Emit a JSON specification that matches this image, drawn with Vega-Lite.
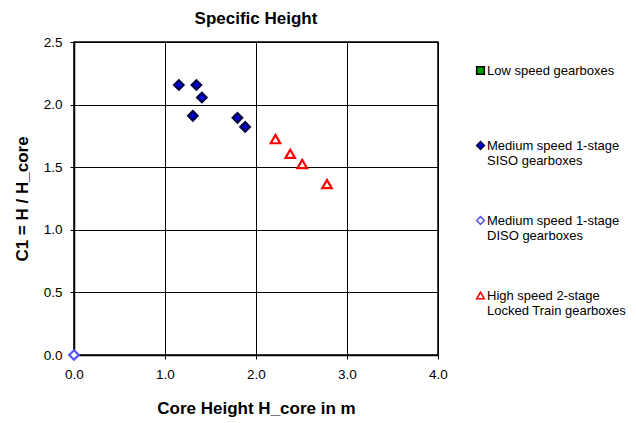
{
  "$schema": "https://vega.github.io/schema/vega-lite/v6.json",
  "autosize": "none",
  "width": 364,
  "height": 313,
  "padding": {"left": 74, "top": 42, "right": 198, "bottom": 68},
  "background": "white",
  "config": {
    "font": "Liberation Sans",
    "view": {"stroke": "black", "strokeWidth": 1.5},
    "axis": {
      "grid": true,
      "gridColor": "black",
      "gridOpacity": 1,
      "gridWidth": 1,
      "domainColor": "black",
      "domainWidth": 1.5,
      "tickColor": "black",
      "tickSize": 4,
      "labelFlush": false,
      "labelFont": "Liberation Sans",
      "labelFontSize": 13.5,
      "labelColor": "black",
      "titleFont": "Liberation Sans",
      "titleFontSize": 17,
      "titleFontWeight": "bold",
      "titleColor": "black"
    }
  },
  "title": {
    "text": "Specific Height",
    "font": "Liberation Sans",
    "fontSize": 17,
    "fontWeight": "bold",
    "color": "black",
    "anchor": "middle",
    "offset": 7
  },
  "data": {
    "values": [
      {"series": "Medium speed 1-stage|SISO gearboxes", "x": 1.152, "y": 2.157},
      {"series": "Medium speed 1-stage|SISO gearboxes", "x": 1.345, "y": 2.157},
      {"series": "Medium speed 1-stage|SISO gearboxes", "x": 1.405, "y": 2.057},
      {"series": "Medium speed 1-stage|SISO gearboxes", "x": 1.306, "y": 1.910},
      {"series": "Medium speed 1-stage|SISO gearboxes", "x": 1.796, "y": 1.894},
      {"series": "Medium speed 1-stage|SISO gearboxes", "x": 1.881, "y": 1.822},
      {"series": "Medium speed 1-stage|DISO gearboxes", "x": 0.0, "y": 0.0},
      {"series": "High speed 2-stage|Locked Train gearboxes", "x": 2.214, "y": 1.724},
      {"series": "High speed 2-stage|Locked Train gearboxes", "x": 2.376, "y": 1.607},
      {"series": "High speed 2-stage|Locked Train gearboxes", "x": 2.508, "y": 1.526},
      {"series": "High speed 2-stage|Locked Train gearboxes", "x": 2.780, "y": 1.365}
    ]
  },
  "mark": {"type": "point", "size": 90, "opacity": 1, "clip": false},
  "encoding": {
    "x": {
      "field": "x",
      "type": "quantitative",
      "scale": {"domain": [0, 4], "nice": false, "zero": true},
      "axis": {"values": [0, 1, 2, 3, 4], "format": ".1f", "labelPadding": 8, "title": "Core Height H_core in m", "titlePadding": 20}
    },
    "y": {
      "field": "y",
      "type": "quantitative",
      "scale": {"domain": [0, 2.5], "nice": false},
      "axis": {"values": [0, 0.5, 1, 1.5, 2, 2.5], "format": ".1f", "labelPadding": 8, "title": "C1 = H / H_core", "titlePadding": 12}
    },
    "shape": {
      "field": "series",
      "type": "nominal",
      "scale": {
        "domain": ["Low speed gearboxes", "Medium speed 1-stage|SISO gearboxes", "Medium speed 1-stage|DISO gearboxes", "High speed 2-stage|Locked Train gearboxes"],
        "range": ["square", "diamond", "diamond", "triangle-up"]
      },
      "legend": {
        "orient": "none",
        "legendX": 400,
        "legendY": 22,
        "title": null,
        "direction": "vertical",
        "padding": 0,
        "gridAlign": "all",
        "rowPadding": 45,
        "symbolSize": 60,
        "symbolStrokeWidth": 1.5,
        "labelFont": "Liberation Sans",
        "labelFontSize": 13,
        "labelColor": "black",
        "labelLimit": 300,
        "labelOffset": 0,
        "labelExpr": "split(datum.label, '|')"
      }
    },
    "fill": {
      "field": "series",
      "type": "nominal",
      "scale": {
        "domain": ["Low speed gearboxes", "Medium speed 1-stage|SISO gearboxes", "Medium speed 1-stage|DISO gearboxes", "High speed 2-stage|Locked Train gearboxes"],
        "range": ["#00a000", "#0000dd", "#ffffff", "#ffffff"]
      }
    },
    "stroke": {
      "field": "series",
      "type": "nominal",
      "scale": {
        "domain": ["Low speed gearboxes", "Medium speed 1-stage|SISO gearboxes", "Medium speed 1-stage|DISO gearboxes", "High speed 2-stage|Locked Train gearboxes"],
        "range": ["#000000", "#000040", "#5555ff", "#ff0000"]
      }
    },
    "strokeWidth": {"value": 2.2}
  }
}
